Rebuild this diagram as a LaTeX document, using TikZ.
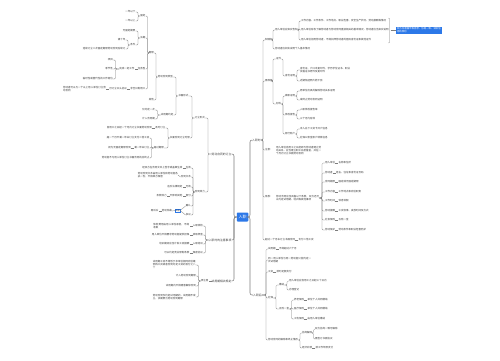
\documentclass[tikz,border=0pt]{standalone}
\usepackage{fontspec}
\newfontfamily\cjk{Noto Sans CJK SC}
\XeTeXlinebreaklocale "zh"
\XeTeXlinebreakskip=0pt plus 1pt
\usetikzlibrary{decorations.pathreplacing}
\definecolor{xblue}{RGB}{44,120,232}
\definecolor{xline}{RGB}{125,125,125}
\definecolor{xtext}{RGB}{55,55,55}
\tikzset{
  base/.style={inner sep=0.2pt, outer sep=0pt, font=\cjk\fontsize{2.5}{3}\selectfont, text=xtext},
  R/.style={base, anchor=west},
  L/.style={base, anchor=east},
  mainR/.style={R, font=\cjk\fontsize{2.8}{3.3}\selectfont},
  mainL/.style={L, font=\cjk\fontsize{2.8}{3.3}\selectfont},
  ml/.style={text width=#1, align=left},
  ln/.style={draw=xline, line width=0.3pt, rounded corners=1.2pt},
  trunk/.style={draw=xline, line width=0.55pt, rounded corners=2pt},
}
\newcommand\RB[3]{\draw[ln] (#1.east) -- (#3,0 |- #1.east) |- (#2.west);}
\newcommand\LB[3]{\draw[ln] (#1.west) -- (#3,0 |- #1.west) |- (#2.east);}
\newcommand\RS[2]{\draw[ln] (#1.east) -- (#2.west);}
\newcommand\LS[2]{\draw[ln] (#1.west) -- (#2.east);}
\newcommand\KVR[4]{\node[R] (#1) at (#2) {#3}; \node[R] (#1v) at ([xshift=3pt]#1.east) {#4}; \RS{#1}{#1v}}
\newcommand\KVL[4]{\node[L] (#1) at (#2) {#3}; \node[L] (#1v) at ([xshift=-3pt]#1.west) {#4}; \LS{#1}{#1v}}
\begin{document}
\begin{tikzpicture}[x=1pt,y=-1pt]
\fill[white] (0,0) rectangle (500,360);
\useasboundingbox (0,0) rectangle (500,360);

% centre
\node[fill=xblue, text=white, font=\cjk\fontsize{4}{4}\selectfont, rounded corners=0.8pt,
      minimum width=11.5pt, minimum height=9pt, inner sep=0pt] (c) at (242.5,217) {入职};

% main branches
\node[mainR] (r1) at (252,140) {入职时};
\node[mainR] (r2) at (253,295) {入职后};
\node[mainL] (l1) at (231.5,154) {劳动合同的订立};
\node[mainL] (l2) at (231.5,240) {入职时的注意事项};
\node[mainL] (l3) at (231.5,281) {试用期相关规定};
\draw[trunk] (c.east) -- (250,0 |- c.east) |- (r1.west);
\draw[trunk] (c.east) -- (250,0 |- c.east) |- (r2.west);
\draw[trunk] (c.west) -- (234,0 |- c.west) |- (l1.east);
\draw[trunk] (c.west) -- (234,0 |- c.west) |- (l2.east);
\draw[trunk] (c.west) -- (234,0 |- c.west) |- (l3.east);

% ===== right: r1 =====
\node[R] (a) at (265,40) {知情权};
\RB{r1}{a}{263}
\node[R] (a1) at (275,30) {用人单位应如实告知};
\node[R] (a2) at (275,49) {劳动者应如实说明个人基本情况};
\RB{a}{a1}{273}\RB{a}{a2}{273}
\node[R] (a11) at (301,21) {工作内容、工作条件、工作地点、职业危害、安全生产状况、劳动报酬等情况};
\node[R] (a12) at (301,30) {用人单位有权了解劳动者与劳动合同直接相关的基本情况，劳动者应当如实说明};
\node[R] (a13) at (301,40) {用人单位招用劳动者，不得扣押劳动者的居民身份证和其他证件};
\RB{a1}{a11}{299}\RB{a1}{a12}{299}\RB{a1}{a13}{299}
\draw[ln, decorate, decoration={brace, amplitude=2pt}] (388.5,18) -- (388.5,43);
\node[R, fill=xblue, text=white, text width=44pt, align=left, inner sep=1pt,
      font=\cjk\fontsize{2.4}{2.9}\selectfont] (s1) at (396,30.5) {双方应遵循平等自愿、协商一致、诚实信用的原则};
\draw[ln] (390.5,30.5) -- (s1.west);

\node[R] (b) at (265,81) {需准备};
\RB{r1}{b}{263}
\node[R] (b1) at (276,59) {证件};
\node[R] (b2) at (276,104) {材料};
\RB{b}{b1}{273}\RB{b}{b2}{273}
\node[R] (b11) at (285,76) {身份证明};
\RB{b1}{b11}{283}
\node[R, ml=50pt] (b111) at (300,70) {身份证、户口本复印件，学历学位证书、职业资格证书原件及复印件};
\node[R] (b112) at (300,81) {近期免冠照片若干张};
\RB{b11}{b111}{297}\RB{b11}{b112}{297}
\node[R] (b21) at (285,96) {离职证明};
\node[R] (b22) at (285,115) {体检报告};
\node[R] (b23) at (285,134) {银行账户};
\RB{b2}{b21}{283}\RB{b2}{b22}{283}\RB{b2}{b23}{283}
\node[R] (b211) at (300,91) {原单位出具的解除劳动关系证明};
\node[R] (b212) at (300,100) {或终止劳动合同证明};
\node[R] (b221) at (300,110) {入职体检报告单};
\node[R] (b222) at (300,119) {三个月内有效};
\node[R] (b231) at (300,129) {本人名下工资卡开户信息};
\node[R] (b232) at (300,138) {社保公积金账户转移信息};
\RB{b21}{b211}{297}\RB{b21}{b212}{297}
\RB{b22}{b221}{297}\RB{b22}{b222}{297}
\RB{b23}{b231}{297}\RB{b23}{b232}{297}

\node[R] (cc) at (265,150) {注意：};
\RB{r1}{cc}{263}
\node[R, ml=45pt] (cc1) at (276,151) {用人单位自用工之日起即与劳动者建立劳动关系，应当建立职工名册备查，并在一个月内订立书面劳动合同};

\node[R] (d) at (265,197) {条款：};
\RB{r1}{d}{263}
\node[R, ml=43pt] (d1) at (276,198) {劳动合同应当具备以下条款，双方还可以约定试用期、培训等其他事项};
\KVR{dk1}{325,163}{用人单位}{名称和住所}
\KVR{dk2}{325,173}{劳动者}{姓名、住址和身份证号码}
\KVR{dk3}{325,182}{合同期限}{固定或无固定期限}
\KVR{dk4}{325,192}{工作内容}{工作地点和岗位职责}
\KVR{dk5}{325,201}{工作时间}{休息休假}
\KVR{dk6}{325,211}{劳动报酬}{工资标准、发放时间及方式}
\KVR{dk7}{325,220}{社会保险}{五险一金}
\KVR{dk8}{325,230}{劳动保护}{劳动条件和职业危害防护}
\RB{d1}{dk1}{322}\RB{d1}{dk2}{322}\RB{d1}{dk3}{322}\RB{d1}{dk4}{322}
\RB{d1}{dk5}{322}\RB{d1}{dk6}{322}\RB{d1}{dk7}{322}\RB{d1}{dk8}{322}

\KVR{e}{265,240}{超过一个月未订立书面合同}{支付二倍工资}
\RB{r1}{e}{263}

% ===== right: r2 =====
\KVR{f1}{268,249}{试用期}{不得超过六个月}
\node[R, ml=43pt] (f2) at (268,260) {同一用人单位与同一劳动者只能约定一次试用期};
\KVR{f3}{268,272}{工资}{按时足额支付}
\node[R] (f4) at (268,298) {社保};
\node[R] (f5) at (268,340) {劳动合同的解除和终止情形};
\RB{r2}{f1}{266}\RB{r2}{f2}{266}\RB{r2}{f3}{266}\RB{r2}{f4}{266}\RB{r2}{f5}{266}
\node[R] (f41) at (279,285) {缴纳};
\node[R] (f42) at (279,309) {五险一金};
\RB{f4}{f41}{276}\RB{f4}{f42}{276}
\node[R] (f411) at (289,281) {用人单位应自用工之日起三十日内};
\node[R] (f412) at (289,290) {办理登记};
\RB{f41}{f411}{287}\RB{f41}{f412}{287}
\KVR{g1}{294,300}{养老保险}{单位个人共同缴纳}
\KVR{g2}{294,309}{医疗保险}{单位个人共同缴纳}
\KVR{g3}{294,319}{工伤保险}{由用人单位缴纳}
\RB{f42}{g1}{291.5}\RB{f42}{g2}{291.5}\RB{f42}{g3}{291.5}
\node[R] (f51) at (302,333) {协商解除};
\KVR{f52}{302,348}{经济补偿}{按工作年限支付}
\RB{f5}{f51}{300}\RB{f5}{f52}{300}
\node[R] (f511) at (315,329) {双方协商一致可解除};
\node[R] (f512) at (315,339) {需签订书面协议};
\RB{f51}{f511}{313.5}\RB{f51}{f512}{313.5}

% ===== left: l1 =====
\node[L] (la) at (205,118) {订立形式};
\node[L] (lb) at (205,192) {合同效力};
\LB{l1}{la}{208}\LB{l1}{lb}{208}
\node[L] (la1) at (188.5,96) {书面形式};
\node[L] (la2) at (190,138) {书面合同订立时限};
\LB{la}{la1}{192}\LB{la}{la2}{192}
\node[L] (m1) at (173,77) {劳动合同类型};
\node[L] (m2) at (173.5,115) {试用期约定};
\LB{la1}{m1}{176}\LB{la1}{m2}{176}
\node[L] (m21) at (155,110) {仅约定一次};
\node[L] (m22) at (155,119) {计入合同期};
\LB{m2}{m21}{157.5}\LB{m2}{m22}{157.5}
\node[L] (ld) at (154,53) {期限};
\node[L] (le) at (154,100) {其他};
\LB{m1}{ld}{156}\LB{m1}{le}{156}
\node[L] (k1) at (145.5,16) {固定};
\node[L] (k2) at (145.5,38) {长期};
\KVL{k3}{145.5,69}{任务型}{完成一定工作}
\KVL{k4}{145.5,89}{非全日制用工}{可订立口头协议}
\LB{ld}{k1}{147.5}\LB{ld}{k2}{147.5}\LB{ld}{k3}{147.5}\LB{ld}{k4}{147.5}
\node[L] (k11) at (135.5,12) {一年以下};
\node[L] (k12) at (135.5,21) {一年以上};
\LB{k1}{k11}{138}\LB{k1}{k12}{138}
\node[L] (k21) at (135.5,31) {无固定期限};
\node[L] (k22) at (135.5,45) {条件};
\LB{k2}{k21}{138}\LB{k2}{k22}{138}
\node[L] (k221) at (125.5,40) {满十年};
\node[L] (k222) at (125.5,49) {连续订立二次固定期限劳动合同后续订};
\LB{k22}{k221}{128}\LB{k22}{k222}{128}
\node[L] (k31) at (113,60) {项目};
\node[L] (k32) at (113,69) {季节性};
\node[L] (k33) at (113,79) {临时性或替代性的工作岗位};
\LB{k3v}{k31}{115.5}\LB{k3v}{k32}{115.5}\LB{k3v}{k33}{115.5}
\node[L, ml=43pt] (k4b) at ([xshift=-3pt]k4v.west) {劳动者可以与一个以上用人单位订立劳动合同};
\LS{k4v}{k4b}

\KVL{p1}{165.5,128}{及时订立}{自用工之日起一个月内订立书面劳动合同}
\node[L] (q) at (164,148) {超过期限};
\LB{la2}{p1}{168}\LB{la2}{q}{168}
\node[L] (q1) at (149.5,138) {超一个月不满一年未订立支付二倍工资};
\KVL{q2}{149.5,148}{满一年未订立}{视为无固定期限合同}
\node[L] (q3) at (149.5,158) {劳动者不与用人单位订立书面合同的应终止};
\LB{q}{q1}{151.5}\LB{q}{q2}{151.5}\LB{q}{q3}{151.5}

\KVL{c1}{191,168}{生效}{经双方在合同文本上签字或盖章生效}
\node[L] (c2) at (191,177) {合同文本};
\node[L, ml=40pt] (c2v) at (178,175) {劳动合同文本由用人单位和劳动者各执一份，不得单方保管};
\LS{c2}{c2v}
\KVL{c3}{191,187}{无效}{违反法律规定}
\KVL{c4}{191,196}{部分}{不影响其他}
\node[L] (c4w) at ([xshift=-3pt]c4v.west) {条款效力};
\LS{c4v}{c4w}
\node[L] (c5) at (191,206) {确认};
\node[L] (c6) at (191,215) {争议};
\LB{lb}{c1}{193}\LB{lb}{c2}{193}\LB{lb}{c3}{193}\LB{lb}{c4}{193}\LB{lb}{c5}{193}\LB{lb}{c6}{193}
\node[base, draw=xblue, line width=0.35pt, inner sep=0.5pt, font=\cjk\fontsize{2}{2}\selectfont] (bx) at (177.5,210.5) {处理};
\draw[ln] (c5.west) -- (bx.east);
\draw[ln] (c6.west) -- (bx.east);
\node[L] (c7) at (172,211) {劳动仲裁};
\node[L] (c7w) at ([xshift=-3pt]c7.west) {再诉讼};
\LS{bx}{c7}\LS{c7}{c7w}

% ===== left: l2 =====
\node[L] (h1) at (203,226) {入职体检};
\node[L, ml=36pt] (h1v) at ([xshift=-3pt]h1.west) {体检费用由用人单位承担，不得收取};
\LS{h1}{h1v}
\KVL{h2}{203,235}{收取押金}{用人单位不得要求劳动者提供担保}
\KVL{h3}{203,244}{入职培训}{培训期间应当计发工资报酬}
\KVL{h4}{203,253}{保密协议}{可以约定竞业限制条款}
\LB{l2}{h1}{205.5}\LB{l2}{h2}{205.5}\LB{l2}{h3}{205.5}\LB{l2}{h4}{205.5}

% ===== left: l3 =====
\node[L] (mm) at (208.5,281) {须注意};
\LS{l3}{mm}
\node[L, ml=43pt] (n1) at (196,265) {试用期工资不得低于本单位相同岗位最低档工资或者合同约定工资的百分之八十};
\node[L] (n2) at (196,276) {计入劳动合同期限};
\node[L] (n3) at (196,286) {试用期内不得随意解除合同};
\node[L, ml=43pt] (n4) at (196,297) {劳动合同仅约定试用期的，试用期不成立，该期限为劳动合同期限};
\LB{mm}{n1}{198.5}\LB{mm}{n2}{198.5}\LB{mm}{n3}{198.5}\LB{mm}{n4}{198.5}
\end{tikzpicture}
\end{document}
